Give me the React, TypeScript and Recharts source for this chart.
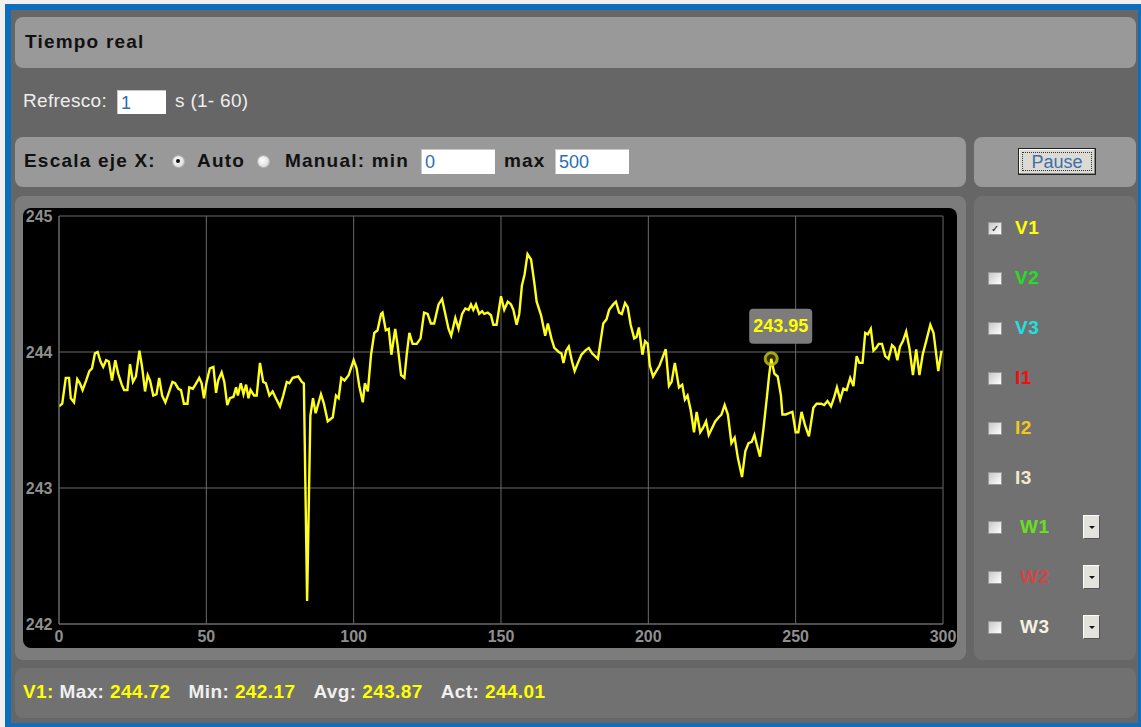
import React from "react";
import { LineChart, Line, XAxis, YAxis, CartesianGrid, ReferenceDot } from "recharts";

// time (s)
const T = [
  0, 1.1, 2.3, 3.4, 4, 5.1, 6.2, 7.1, 8, 9.2, 10.3, 11.2, 12.2, 13.1, 14.1, 15, 16, 16.9, 18, 19.1,
  20.1, 21.3, 22.1, 23.2, 24.1, 25.1, 26.1, 27.3, 28.2, 29.2, 30.1, 30.9, 32, 33.1, 34, 35, 36.1, 37.1, 38.5, 39.4,
  40.5, 41.4, 42.4, 43.6, 44.2, 45.4, 46.3, 47.6, 48.4, 49.2, 50.1, 51.2, 52.4, 53.3, 54, 55.2, 56.1, 57.1, 58, 59.2,
  60.1, 60.7, 61.7, 62.6, 63.5, 64.3, 65, 66.2, 67.1, 68.2, 69.3, 70.2, 71.4, 72.5, 73.6, 75, 76.1, 77.3, 78.2, 79.3,
  81.2, 82.4, 83.1, 84.2, 85.3, 86.2, 87.1, 88.9, 89.9, 91.2, 92.9, 94, 94.9, 95.8, 96.9, 98.3,
  100, 101, 101.9, 103.1, 103.8, 104.8, 105.9, 107, 108.1, 109.3, 109.8, 110.9, 111.9, 112.8, 114.1, 114.9, 116.1, 117.2, 118, 118.9,
  120, 121.4, 122.7, 123.9, 125.1, 126.2, 127.3, 128.8, 130, 131.3, 132.2, 133.1, 134.5, 135.6, 136.8, 137.9, 139, 139.8, 140.6, 141.5,
  142.6, 143.6, 144.3, 145.5, 146.6, 147.4, 148.5, 150, 151.1, 152.3, 153.4, 154.2, 155.3, 156.2, 157.1, 158, 159, 160.2, 161.3, 162.1,
  163.6, 165, 165.9, 167.1, 168.1, 169.6, 170.5, 171.2, 172.1, 173, 174.1, 175, 176.1, 177.3, 178.6, 179.8, 180.9, 182.9,
  184.7, 185.8, 186.7, 188.1, 189, 190.1, 191, 192.1, 193, 194, 195.2, 196, 196.8, 198, 198.9, 199.8,
  200.5, 201.6, 202.7, 203.8, 205, 205.9, 207, 207.9, 209, 210.4, 211.5, 212.4, 213.3, 214.4, 215.5, 216.4, 217.6, 218.5, 219.6,
  220.5, 221.6, 222.7, 223.9, 224.8, 225.9, 227, 228.2, 229.3, 230.4, 231.8, 232.9, 234, 235.1, 236, 236.8, 237.9, 239.1,
  240.2, 241, 241.7, 242.8, 243.9, 245, 245.5, 246.6, 247.7, 248.9, 250, 250.9, 252, 253.2, 254.5, 256, 257.1, 258.6, 259.7,
  260.8, 262, 263.1, 264, 265.1, 266.2, 267.3, 268.5, 269.6, 270.7, 271.6, 272.7, 273.6, 274.5, 275.5, 276.4, 277.3, 278.2, 279.3,
  280.4, 281.5, 282.7, 283.6, 284.5, 285.4, 286.4, 287.5, 288.6, 289.8, 290.9, 292, 293.1, 294.3, 295.7, 296.8, 298.4, 299.5,
];

// V1 voltage
const V1 = [
  243.6, 243.62, 243.81, 243.81, 243.66, 243.63, 243.8, 243.77, 243.72, 243.79, 243.86, 243.88, 243.99, 244.0, 243.93, 243.89, 243.94, 243.93, 243.79, 243.94,
  243.84, 243.76, 243.72, 243.72, 243.91, 243.78, 243.82, 244.01, 243.89, 243.71, 243.83, 243.79, 243.68, 243.69, 243.81, 243.68, 243.63, 243.69, 243.78, 243.77,
  243.73, 243.72, 243.62, 243.62, 243.74, 243.73, 243.76, 243.81, 243.77, 243.66, 243.78, 243.88, 243.89, 243.7, 243.79, 243.85, 243.78, 243.61, 243.66, 243.67,
  243.74, 243.68, 243.77, 243.69, 243.76, 243.66, 243.72, 243.68, 243.68, 243.92, 243.78, 243.77, 243.68, 243.71, 243.66, 243.6, 243.68, 243.78, 243.77, 243.81,
  243.82, 243.78, 243.77, 242.17, 243.53, 243.66, 243.55, 243.69, 243.62, 243.49, 243.52, 243.68, 243.66, 243.81, 243.79, 243.83,
  243.94, 243.88, 243.75, 243.63, 243.77, 243.71, 243.98, 244.14, 244.16, 244.28, 244.29, 244.16, 244.17, 243.98, 244.17, 244.05, 243.83, 243.81, 243.98, 244.14,
  244.06, 244.06, 244.1, 244.29, 244.28, 244.21, 244.21, 244.35, 244.39, 244.26, 244.17, 244.12, 244.25, 244.17, 244.28, 244.32, 244.31, 244.35, 244.31, 244.35,
  244.28, 244.3, 244.28, 244.29, 244.27, 244.2, 244.2, 244.41, 244.31, 244.37, 244.35, 244.31, 244.2, 244.28, 244.49, 244.57, 244.72, 244.68, 244.51, 244.37,
  244.27, 244.12, 244.21, 244.1, 244.03, 244.0, 243.99, 243.92, 244.01, 244.04, 243.93, 243.86, 243.92, 243.98, 244.01, 244.03, 243.99, 243.95,
  244.21, 244.24, 244.31, 244.35, 244.37, 244.29, 244.28, 244.36, 244.33, 244.2, 244.1, 244.11, 244.18, 243.98, 244.08, 244.06,
  243.9, 243.82, 243.86, 243.9, 243.97, 244.02, 243.75, 243.78, 243.92, 243.74, 243.76, 243.65, 243.68, 243.57, 243.41, 243.56, 243.41, 243.44, 243.49,
  243.39, 243.44, 243.49, 243.52, 243.54, 243.61, 243.54, 243.33, 243.37, 243.22, 243.08, 243.27, 243.33, 243.34, 243.39, 243.32, 243.23, 243.44,
  243.66, 243.83, 243.95, 243.84, 243.82, 243.68, 243.54, 243.54, 243.55, 243.56, 243.41, 243.41, 243.56, 243.46, 243.38, 243.59, 243.62, 243.62, 243.61,
  243.64, 243.6, 243.67, 243.74, 243.65, 243.73, 243.72, 243.81, 243.75, 243.97, 243.92, 243.92, 244.14, 244.13, 244.17, 244.01, 244.03, 244.06, 244.06,
  243.97, 243.95, 244.05, 244.03, 243.94, 244.04, 244.08, 244.15, 244.03, 243.83, 244.02, 243.83, 243.98, 244.08, 244.2, 244.14, 243.86, 244.01,
];

const X_TICKS = [0, 50, 100, 150, 200, 250, 300];
const Y_TICKS = [242, 243, 244, 245];
const X_DOMAIN = [0, 300];
const Y_DOMAIN = [242, 245];

const HOVER_T = 241.7;
const HOVER_LABEL = "243.95";

const LEGEND_NAMES = ["V1", "V2", "V3", "I1", "I2", "I3", "W1", "W2", "W3"];
const LEGEND_COLORS = ["#ffff00", "#22e022", "#22e0e0", "#ee1010", "#f2c81e", "#f2ead0", "#66e020", "#cc4848", "#f6f2e2"];
const LEGEND_CHECKED = [true, false, false, false, false, false, false, false, false];
const LEGEND_DROPDOWN = [false, false, false, false, false, false, true, true, true];

const STAT_LABELS = ["Max:", "Min:", "Avg:", "Act:"];
const STAT_VALUES = ["244.72", "242.17", "243.87", "244.01"];

const data = T.map((t, i) => ({ t, v1: V1[i] }));
const hoverIndex = T.indexOf(HOVER_T);

const FONT = '"Liberation Sans", Arial, Helvetica, sans-serif';

const Txt = ({ x, y, children, size = 19, bold = false, color = "#111", ls = 0 }: any) => (
  <div
    style={{
      position: "absolute",
      left: x,
      top: y - 12,
      height: 24,
      lineHeight: "24px",
      fontSize: size,
      fontWeight: bold ? "bold" : "normal",
      color,
      letterSpacing: ls,
      whiteSpace: "nowrap",
    }}
  >
    {children}
  </div>
);

const Panel = ({ x, y, w, h, bg }: any) => (
  <div style={{ position: "absolute", left: x, top: y, width: w, height: h, background: bg, borderRadius: 8 }} />
);

const Input = ({ x, y, w, h, value }: any) => (
  <div
    style={{
      position: "absolute",
      left: x,
      top: y,
      width: w,
      height: h,
      background: "#ffffff",
      boxSizing: "border-box",
      borderTop: "1px solid #c8c8c8",
      borderLeft: "1px solid #c8c8c8",
      color: "#2a6fb8",
      fontSize: 18,
      lineHeight: `${h}px`,
      paddingLeft: 3,
    }}
  >
    {value}
  </div>
);

const Radio = ({ cx, cy, on }: any) => (
  <div
    style={{
      position: "absolute",
      left: cx - 5.5,
      top: cy - 5.5,
      width: 11,
      height: 11,
      borderRadius: "50%",
      background: "radial-gradient(circle at 40% 40%, #ffffff, #d0d0d0)",
      boxShadow: "0 0 0 1px #b5b5b5",
    }}
  >
    {on && (
      <div style={{ position: "absolute", left: 3.5, top: 3.5, width: 4, height: 4, borderRadius: "50%", background: "#111" }} />
    )}
  </div>
);

const XTick = (p: any) => (
  <text
    x={p.x}
    y={p.y + 4}
    textAnchor="middle"
    dominantBaseline="central"
    fill="#8f8f8f"
    fontSize={16}
    fontWeight="bold"
    fontFamily={FONT}
  >
    {p.payload.value}
  </text>
);

const YTick = (p: any) => (
  <text
    x={p.x + 1.5}
    y={p.y}
    textAnchor="end"
    dominantBaseline="central"
    fill="#8f8f8f"
    fontSize={16}
    fontWeight="bold"
    fontFamily={FONT}
  >
    {p.payload.value}
  </text>
);

const HoverMarker = (p: any) => {
  const { cx, cy } = p;
  return (
    <g>
      <circle cx={cx} cy={cy} r={6} fill="rgba(255,255,0,0.18)" stroke="rgba(190,190,20,0.85)" strokeWidth={3} />
      <rect x={cx - 22} y={cy - 50} width={63} height={35} rx={4} fill="#7c7c7c" />
      <text
        x={cx + 9.5}
        y={cy - 32.5}
        textAnchor="middle"
        dominantBaseline="central"
        fill="#ffff00"
        fontSize={18}
        fontWeight="bold"
        fontFamily={FONT}
      >
        {HOVER_LABEL}
      </text>
    </g>
  );
};

export default function App() {
  return (
    <div
      style={{
        position: "absolute",
        left: 0,
        top: 0,
        width: 1141,
        height: 727,
        overflow: "hidden",
        background: "#f0f0f0",
        fontFamily: FONT,
      }}
    >
      {/* blue frame */}
      <div style={{ position: "absolute", left: 5, top: 4, width: 1136, height: 723, background: "#0d6dbf" }} />
      {/* dark inner */}
      <div style={{ position: "absolute", left: 11, top: 10, width: 1127, height: 713, background: "#666666" }} />

      {/* header */}
      <Panel x={15} y={17} w={1121} h={51} bg="#999999" />
      <Txt x={25} y={42} bold ls={1.2}>Tiempo real</Txt>

      {/* refresh row */}
      <Txt x={23} y={101} color="#eeeeee" ls={0.3}>Refresco:</Txt>
      <Input x={117} y={90} w={49} h={24} value="1" />
      <Txt x={175} y={101} color="#eeeeee" ls={0.3}>s (1- 60)</Txt>

      {/* x scale panel */}
      <Panel x={15} y={137} w={951} h={50} bg="#999999" />
      <Txt x={24} y={161} bold ls={1.2}>Escala eje X:</Txt>
      <Radio cx={178} cy={161} on />
      <Txt x={197} y={161} bold ls={1.2}>Auto</Txt>
      <Radio cx={263} cy={161} on={false} />
      <Txt x={285} y={161} bold ls={1.2}>Manual: min</Txt>
      <Input x={421} y={149} w={74} h={25} value="0" />
      <Txt x={504} y={161} bold ls={1.2}>max</Txt>
      <Input x={555} y={149} w={74} h={25} value="500" />

      {/* pause panel */}
      <Panel x={974} y={137} w={162} h={50} bg="#999999" />
      <div
        style={{
          position: "absolute",
          left: 1018,
          top: 148,
          width: 78,
          height: 27,
          boxSizing: "border-box",
          background: "#dcdad4",
          border: "1px solid #222",
          boxShadow: "inset -1px -1px 0 #888, inset 1px 1px 0 #fff",
        }}
      >
        <div
          style={{
            position: "absolute",
            left: 3,
            top: 3,
            right: 3,
            bottom: 3,
            border: "1px dotted #333",
            color: "#3d6fa8",
            fontSize: 18,
            lineHeight: "19px",
            textAlign: "center",
          }}
        >
          Pause
        </div>
      </div>

      {/* chart panel */}
      <Panel x={15} y={196} w={951} h={464} bg="#7c7c7c" />
      <div
        style={{
          position: "absolute",
          left: 23,
          top: 208,
          width: 934,
          height: 440,
          background: "#000000",
          borderRadius: 8,
        }}
      >
        <LineChart width={934} height={440} data={data} margin={{ top: 8, right: 14, bottom: 0, left: 0 }}>
          <CartesianGrid stroke="#6a6a6a" strokeWidth={1} />
          <XAxis
            type="number"
            dataKey="t"
            domain={X_DOMAIN}
            ticks={X_TICKS}
            allowDataOverflow
            height={24}
            tickLine={false}
            axisLine={{ stroke: "#6a6a6a" }}
            tick={<XTick />}
            interval={0}
          />
          <YAxis
            type="number"
            domain={Y_DOMAIN}
            ticks={Y_TICKS}
            allowDataOverflow
            width={36}
            tickLine={false}
            axisLine={{ stroke: "#6a6a6a" }}
            tick={<YTick />}
            interval={0}
          />
          <Line
            type="linear"
            dataKey="v1"
            stroke="#ffff1e"
            strokeWidth={2.4}
            dot={false}
            isAnimationActive={false}
          />
          <ReferenceDot
            x={T[hoverIndex]}
            y={V1[hoverIndex]}
            r={6}
            ifOverflow="visible"
            shape={HoverMarker}
          />
        </LineChart>
      </div>

      {/* legend panel */}
      <Panel x={974} y={196} w={162} h={464} bg="#717171" />
      {LEGEND_NAMES.map((name, i) => {
        const yc = 228 + i * 49.9;
        return (
          <React.Fragment key={name}>
            <div
              style={{
                position: "absolute",
                left: 988,
                top: yc - 6,
                width: 14,
                height: 13,
                boxSizing: "border-box",
                background: "linear-gradient(135deg, #c8c8c8, #ffffff)",
                border: "1px solid #9a9a9a",
                fontSize: 10,
                lineHeight: "11px",
                textAlign: "center",
                color: "#111",
              }}
            >
              {LEGEND_CHECKED[i] ? "✓" : ""}
            </div>
            <Txt x={LEGEND_DROPDOWN[i] ? 1020 : 1015} y={yc} bold color={LEGEND_COLORS[i]} ls={0.5}>
              {name}
            </Txt>
            {LEGEND_DROPDOWN[i] && (
              <div
                style={{
                  position: "absolute",
                  left: 1083,
                  top: yc - 12,
                  width: 17,
                  height: 24,
                  boxSizing: "border-box",
                  background: "#e4e2dc",
                  borderTop: "1px solid #ffffff",
                  borderLeft: "1px solid #ffffff",
                  borderRight: "1px solid #555",
                  borderBottom: "1px solid #555",
                }}
              >
                <div
                  style={{
                    position: "absolute",
                    left: 5,
                    top: 10,
                    width: 0,
                    height: 0,
                    borderLeft: "3px solid transparent",
                    borderRight: "3px solid transparent",
                    borderTop: "3px solid #111",
                  }}
                />
              </div>
            )}
          </React.Fragment>
        );
      })}

      {/* stats panel */}
      <Panel x={15} y={668} w={1121} h={50} bg="#717171" />
      <div
        style={{
          position: "absolute",
          left: 23,
          top: 680,
          height: 24,
          lineHeight: "24px",
          fontSize: 19,
          fontWeight: "bold",
          letterSpacing: 0.4,
          whiteSpace: "pre",
          display: "flex",
        }}
      >
        <span style={{ color: "#ffff00" }}>V1: </span>
        {STAT_LABELS.map((lab, i) => (
          <span key={lab} style={{ marginLeft: i === 0 ? 0 : 18 }}>
            <span style={{ color: "#f0f0f0" }}>{lab} </span>
            <span style={{ color: "#ffff00" }}>{STAT_VALUES[i]}</span>
          </span>
        ))}
      </div>
    </div>
  );
}
